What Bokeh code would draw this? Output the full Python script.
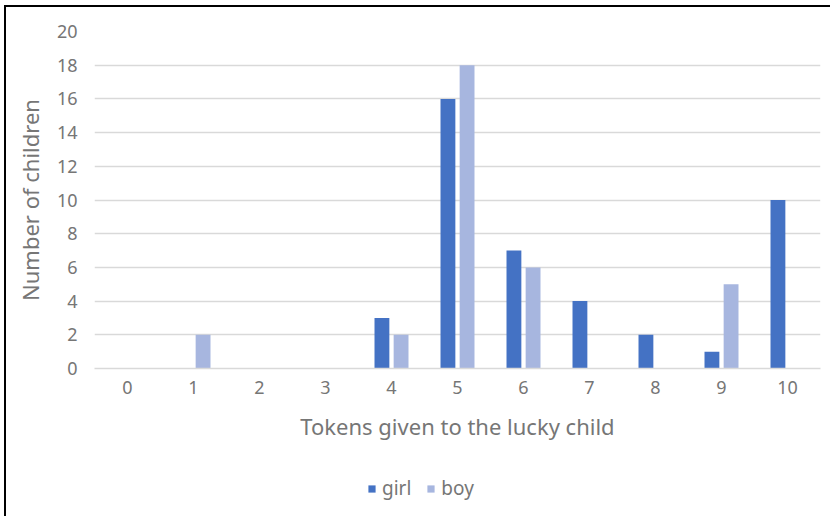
import numpy as np
from bokeh.plotting import figure
from bokeh.layouts import column
from bokeh.models import Range1d, FixedTicker, Legend, LegendItem
from bokeh.embed import file_html
from bokeh.resources import INLINE

# Tokens given to the lucky child, and how many girls / boys gave each amount
tokens = [0, 1, 2, 3, 4, 5, 6, 7, 8, 9, 10]
girl = [0, 0, 0, 0, 3, 16, 7, 4, 2, 1, 10]
boy = [0, 2, 0, 0, 2, 18, 6, 0, 0, 5, 0]
y_ticks = [0, 2, 4, 6, 8, 10, 12, 14, 16, 18, 20]

FONT = "Noto Sans"
TEXT = "#767676"
GRID = "#d9d9d9"
GIRL_COLOR = "#4472c4"
BOY_COLOR = "#a7b6df"

# the chart sits inside black lines along its top and left edges
OFF_X = 6.5
OFF_Y = 7.5
W = int(831 - OFF_X)
LEG_H = 60
MAIN_H = int(517 - OFF_Y - LEG_H)
FRAME_LEFT = 95

p = figure(width=W, height=MAIN_H,
           output_backend="svg", toolbar_location=None,
           x_range=Range1d(-0.5, 10.5), y_range=Range1d(0, 20),
           min_border_left=int(FRAME_LEFT - OFF_X), min_border_right=10,
           min_border_top=int(32 - OFF_Y),
           min_border_bottom=int(OFF_Y + MAIN_H - 368))
p.outline_line_color = None
p.background_fill_color = "white"
p.border_fill_color = "white"

x = np.array(tokens, dtype=float)
bw = 0.225
off = 0.145
p.vbar(x=x - off, top=girl, width=bw, fill_color=GIRL_COLOR, line_color=None)
p.vbar(x=x + off, top=boy, width=bw, fill_color=BOY_COLOR, line_color=None)

# grid
p.xgrid.grid_line_color = None
p.ygrid.grid_line_color = GRID
p.ygrid.grid_line_width = 1.5
p.ygrid.ticker = FixedTicker(ticks=y_ticks)

# axes
p.xaxis.ticker = FixedTicker(ticks=tokens)
p.yaxis.ticker = FixedTicker(ticks=y_ticks)
for ax in (p.xaxis[0], p.yaxis[0]):
    ax.major_tick_line_color = None
    ax.minor_tick_line_color = None
    ax.major_tick_out = 0
    ax.major_tick_in = 0
    ax.minor_tick_out = 0
    ax.major_label_text_font = FONT
    ax.major_label_text_font_size = "18px"
    ax.major_label_text_color = TEXT
    ax.axis_label_text_font = FONT
    ax.axis_label_text_font_size = "22px"
    ax.axis_label_text_color = TEXT
    ax.axis_label_text_font_style = "normal"

p.xaxis.axis_line_color = GRID
p.xaxis.axis_line_width = 1.5
p.yaxis.axis_line_color = None
p.xaxis.axis_label = "Tokens given to the lucky child"
p.yaxis.axis_label = "Number of children"
p.xaxis.major_label_standoff = 12
p.xaxis.axis_label_standoff = 14
p.yaxis.major_label_standoff = 17
p.yaxis.axis_label_standoff = 9

# legend strip under the chart (its frame lines up with the chart's frame)
leg = figure(width=W, height=LEG_H, output_backend="svg", toolbar_location=None,
             x_range=Range1d(0, 1), y_range=Range1d(0, 1),
             x_axis_location=None, y_axis_location=None,
             min_border=0)
leg.outline_line_color = None
leg.xgrid.visible = False
leg.ygrid.visible = False
# zero-height swatch renderers: only their legend entries are visible
lg_girl = leg.vbar(x=[0.5], top=[0], bottom=[0], width=0.01,
                   fill_color=GIRL_COLOR, line_color=None)
lg_boy = leg.vbar(x=[0.5], top=[0], bottom=[0], width=0.01,
                  fill_color=BOY_COLOR, line_color=None)
legend = Legend(items=[LegendItem(label="girl", renderers=[lg_girl]),
                       LegendItem(label="boy", renderers=[lg_boy])],
                orientation="horizontal", location=(368 - FRAME_LEFT, 15),
                glyph_width=9, glyph_height=9, label_standoff=6, spacing=15,
                padding=0, margin=0, border_line_color=None,
                background_fill_alpha=0,
                label_text_font=FONT, label_text_font_size="19px",
                label_text_color=TEXT)
leg.add_layout(legend, "center")

layout = column(p, leg, spacing=0)
layout.styles = {"margin-left": "4px", "margin-top": "5px",
                 "border-left": "2.5px solid black", "border-top": "2.5px solid black"}

open("out.html", "w").write(file_html(layout, INLINE))
